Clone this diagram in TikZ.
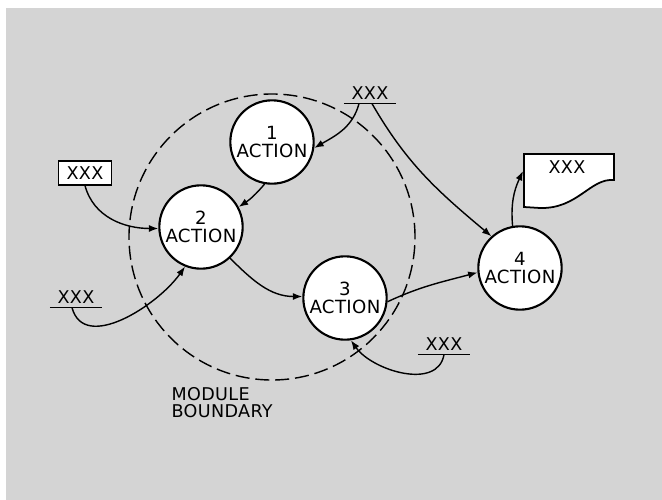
\documentclass[tikz,border=0pt]{standalone}
\usepackage{fontspec}
\setmainfont{DejaVu Sans}[LetterSpace=2]
\usetikzlibrary{arrows.meta,calc}
\definecolor{paper}{gray}{0.83}
\begin{document}
\begin{tikzpicture}[x=0.03cm, y=-0.03cm, line width=1.2pt,
    act/.style={draw, circle, fill=white, line width=1.8pt, minimum size=2.5cm, inner sep=0pt, align=center, font=\fontsize{15.5}{15}\selectfont},
    store/.style={inner xsep=6pt, inner ysep=3pt, font=\fontsize{15}{15}\selectfont},
    flow/.style={-{Latex[length=8pt,width=6pt]}}]
    \useasboundingbox (0,0) rectangle (662,500);
    \fill[paper] (6,8) rectangle (662,500);
    % module boundary
    \draw[dash pattern=on 12pt off 5pt, line width=1.2pt] (272,237) circle [radius=4.29cm];
    \node[align=left, font=\fontsize{15}{14}\selectfont, anchor=north west] (mb) at (167,383) {MODULE\\BOUNDARY};
    % processes
    \node[act] (1) at (272,142) {1\\ACTION};
    \node[act] (2) at (201,227) {2\\ACTION};
    \node[act] (3) at (345,298) {3\\ACTION};
    \node[act] (4) at (520,268) {4\\ACTION};
    % data
    \node[store] (t) at (370,93) {XXX}; \draw (t.south west) -- (t.south east);
    \node[store] (l) at (76,297) {XXX}; \draw (l.south west) -- (l.south east);
    \node[store] (r) at (444,344) {XXX}; \draw (r.south west) -- (r.south east);
    \node[draw, fill=white, font=\fontsize{15}{15}\selectfont, inner xsep=7pt, inner ysep=4.5pt, line width=1.5pt] (b) at (85,173) {XXX};
    \filldraw[fill=white, line width=1.5pt] (524,154) -- (614,154) -- (614,180) .. controls (590,178) and (578,209) .. (540,208) -- (524,207) -- cycle;
    \coordinate (d) at (523,171);
    \node[font=\fontsize{15}{15}\selectfont] (dt) at (567,167) {XXX};
    % flows
    \draw[flow] ($(t.south)+(-11,0)$) to[out=-105, in=30] (1.-8);
    \draw[flow] ($(t.south)+(2,0)$) to[out=-60, in=140] (4.132);
    \draw[flow] (1.-100) to[bend left=8] (2.28);
    \draw[flow] (b.south) to[out=-75, in=180] (2.182);
    \draw[flow] ($(l.south)+(-4,0)$) to[out=-75, in=-125] (2.-112);
    \draw[flow] (2.-47) to[out=-45, in=180] (3.178);
    \draw[flow] (3.-5) to[out=25, in=195] (4.186);
    \draw[flow] (r.south) to[out=-100, in=-55] (3.-82);
    \draw[flow] (4.100) to[out=95, in=-115] (d);
\end{tikzpicture}
\end{document}
